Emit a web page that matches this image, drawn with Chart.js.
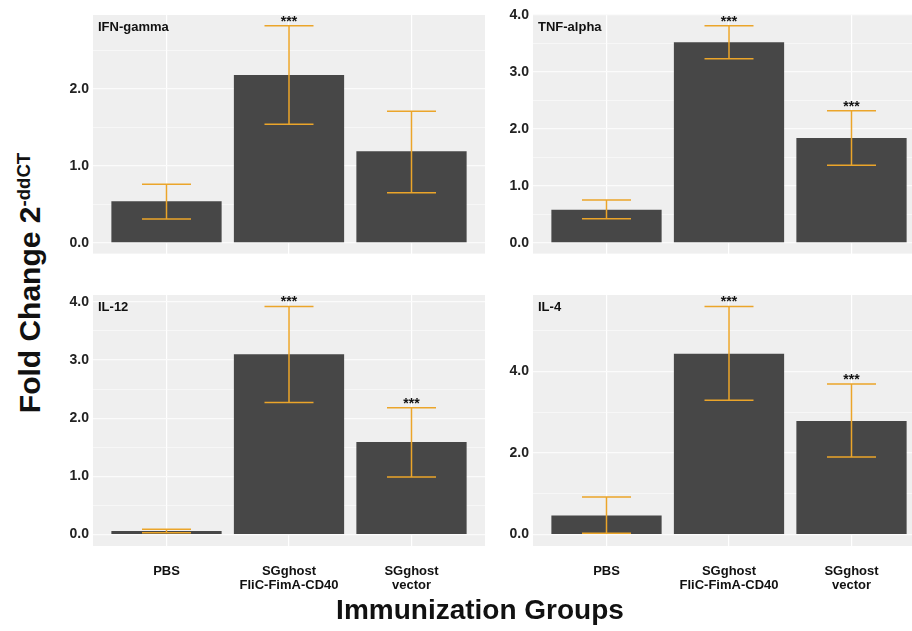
<!DOCTYPE html>
<html>
<head>
<meta charset="utf-8">
<script src="https://cdn.jsdelivr.net/npm/chart.js@4.4.0/dist/chart.umd.min.js"></script>
<style>
  html, body { margin: 0; padding: 0; background: #fff; overflow: hidden; }
  #wrap { position: relative; width: 912px; height: 631px; overflow: hidden; font-family: "Liberation Sans", Arial, sans-serif; }
  canvas { position: absolute; }
  #ylab { position: absolute; left: 30px; top: 283px; transform: translate(-50%, -50%) rotate(-90deg);
          white-space: nowrap; font-weight: bold; font-size: 30px; color: #111; }
  #ylab sup { font-size: 0.62em; vertical-align: 0.55em; }
  #xlab { position: absolute; left: 480px; top: 610px; transform: translate(-50%, -50%);
          white-space: nowrap; font-weight: bold; font-size: 28px; color: #111; }
</style>
</head>
<body>
<div id="wrap">
  <canvas id="c1"></canvas>
  <canvas id="c2"></canvas>
  <canvas id="c3"></canvas>
  <canvas id="c4"></canvas>
  <div id="ylab">Fold Change 2<sup>-ddCT</sup></div>
  <div id="xlab">Immunization Groups</div>
</div>
<script>
// groups on the x axis
const groups = [['PBS'], ['SGghost', 'FliC-FimA-CD40'], ['SGghost', 'vector']];

// IFN-gamma
const ifnMean = [0.54, 2.18, 1.19];
const ifnLow = [0.31, 1.54, 0.65];
const ifnHigh = [0.76, 2.82, 1.71];
const ifnStars = ['', '***', ''];
const ifnTicks = ['0.0', '1.0', '2.0'];

// TNF-alpha
const tnfMean = [0.58, 3.52, 1.84];
const tnfLow = [0.42, 3.23, 1.36];
const tnfHigh = [0.75, 3.81, 2.32];
const tnfStars = ['', '***', '***'];
const tnfTicks = ['0.0', '1.0', '2.0', '3.0', '4.0'];

// IL-12
const il12Mean = [0.06, 3.10, 1.59];
const il12Low = [0.03, 2.27, 0.99];
const il12High = [0.09, 3.92, 2.18];
const il12Stars = ['', '***', '***'];
const il12Ticks = ['0.0', '1.0', '2.0', '3.0', '4.0'];

// IL-4
const il4Mean = [0.47, 4.43, 2.78];
const il4Low = [0.03, 3.29, 1.90];
const il4High = [0.92, 5.59, 3.69];
const il4Stars = ['', '***', '***'];
const il4Ticks = ['0.0', '2.0', '4.0'];

const FONT = '"Liberation Sans", Arial, sans-serif';
const PANEL_W = 392, PANEL_H = 251, AXIS_W = 33, PAD_TOP = 15;

// panel background, titles, error bars and stars
const panelPlugin = {
    id: 'panel',
    beforeDraw(chart) {
        const a = chart.chartArea, ctx = chart.ctx;
        ctx.save();
        ctx.fillStyle = '#efefef';
        ctx.fillRect(a.left, a.top, a.right - a.left, a.bottom - a.top);
        ctx.restore();
    },
    afterDatasetsDraw(chart) {
        const o = chart.options.plugins.panel;
        const ctx = chart.ctx, xs = chart.scales.x, ys = chart.scales.y, a = chart.chartArea;
        ctx.save();
        ctx.strokeStyle = '#eba52a';
        ctx.lineWidth = 1.5;
        o.low.forEach((lo, i) => {
            const x = xs.getPixelForValue(i);
            const half = xs.getPixelForValue(i + 0.2) - x;
            const yt = ys.getPixelForValue(o.high[i]);
            const yb = ys.getPixelForValue(lo);
            ctx.beginPath();
            ctx.moveTo(x, yt); ctx.lineTo(x, yb);
            ctx.moveTo(x - half, yt); ctx.lineTo(x + half, yt);
            ctx.moveTo(x - half, yb); ctx.lineTo(x + half, yb);
            ctx.stroke();
            if (o.stars[i]) {
                ctx.fillStyle = '#111';
                ctx.font = 'bold 14px ' + FONT;
                ctx.textAlign = 'center';
                ctx.textBaseline = 'alphabetic';
                ctx.fillText(o.stars[i], x, yt + 0);
            }
        });
        ctx.fillStyle = '#111';
        ctx.font = 'bold 13px ' + FONT;
        ctx.textAlign = 'left';
        ctx.textBaseline = 'alphabetic';
        ctx.fillText(o.title, a.left + 5, a.top + 16);
        ctx.restore();
    }
};

function makePanel(id, left, top, title, mean, low, high, stars, ticks, showX) {
    const xAxisH = showX ? 60 : 0;
    const cv = document.getElementById(id);
    cv.width = AXIS_W + PANEL_W;
    cv.height = PAD_TOP + PANEL_H + xAxisH;
    cv.style.left = (left - AXIS_W) + 'px';
    cv.style.top = (top - PAD_TOP) + 'px';

    const topVal = Math.max(...high);
    const major = ticks.map(parseFloat);
    const step = major[1] - major[0];
    const yMin = -0.05 * topVal, yMax = 1.05 * topVal;

    new Chart(cv.getContext('2d'), {
        type: 'bar',
        data: {
            datasets: [{
                data: mean.map((v, i) => ({ x: i, y: v })),
                backgroundColor: '#474747',
                borderWidth: 0,
                barPercentage: 0.9,
                categoryPercentage: 1.0
            }]
        },
        options: {
            responsive: false,
            animation: false,
            devicePixelRatio: 1,
            layout: { padding: { top: PAD_TOP, left: 0, right: 0, bottom: 0 } },
            plugins: {
                legend: { display: false },
                tooltip: { enabled: false },
                panel: { title: title, low: low, high: high, stars: stars }
            },
            scales: {
                x: {
                    type: 'linear',
                    min: -0.6,
                    max: 2.6,
                    offset: false,
                    border: { display: false },
                    grid: { color: '#ffffff', lineWidth: 1.2, drawTicks: false, offset: false },
                    afterBuildTicks: s => { s.ticks = groups.map((g, i) => ({ value: i })); },
                    afterFit: s => { s.height = xAxisH; },
                    ticks: {
                        display: showX,
                        padding: 18,
                        color: '#111',
                        font: { family: FONT, size: 13, weight: 'bold', lineHeight: 1.1 },
                        callback: v => groups[v]
                    }
                },
                y: {
                    min: yMin,
                    max: yMax,
                    border: { display: false },
                    grid: {
                        color: '#fbfbfb',
                        drawTicks: false,
                        lineWidth: c => (c.tick && c.tick.major) ? 1.2 : 0.6
                    },
                    afterBuildTicks: s => {
                        const t = [];
                        for (let v = 0; v <= yMax + 1e-9; v += step / 2) {
                            const isMajor = major.some(m => Math.abs(m - v) < 1e-6);
                            t.push({ value: v, major: isMajor });
                        }
                        s.ticks = t;
                    },
                    afterFit: s => { s.width = AXIS_W; },
                    ticks: {
                        padding: 4,
                        color: '#222',
                        font: { family: FONT, size: 14, weight: 'bold' },
                        callback: (v) => {
                            const k = major.findIndex(m => Math.abs(m - v) < 1e-6);
                            return k >= 0 ? ticks[k] : '';
                        }
                    }
                }
            }
        },
        plugins: [panelPlugin]
    });
}

makePanel('c1', 93, 15, 'IFN-gamma', ifnMean, ifnLow, ifnHigh, ifnStars, ifnTicks, false);
makePanel('c2', 533, 15, 'TNF-alpha', tnfMean, tnfLow, tnfHigh, tnfStars, tnfTicks, false);
makePanel('c3', 93, 295, 'IL-12', il12Mean, il12Low, il12High, il12Stars, il12Ticks, true);
makePanel('c4', 533, 295, 'IL-4', il4Mean, il4Low, il4High, il4Stars, il4Ticks, true);
</script>
</body>
</html>
